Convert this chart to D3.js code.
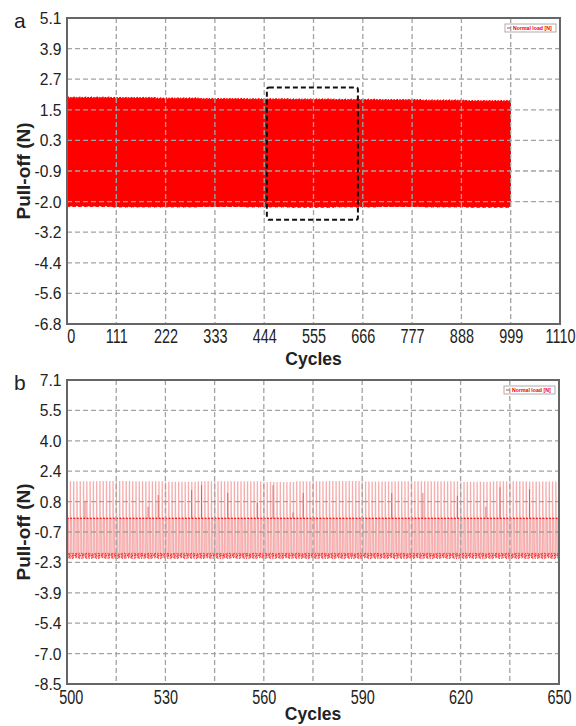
<!DOCTYPE html>
<html>
<head>
<meta charset="utf-8">
<script src="https://cdn.jsdelivr.net/npm/d3@7"></script>
<style>
  body { margin: 0; background: #fff; }
  svg { display: block; font-family: "Liberation Sans", Arial, sans-serif; }
</style>
</head>
<body>
<svg id="chart" width="576" height="726"></svg>
<script>
// ---- panel a : whole test, cycles 0-999 ----
var xTickLabelsA = ["0", "111", "222", "333", "444", "555", "666", "777", "888", "999", "1110"];
var yTickLabelsA = ["-6.8", "-5.6", "-4.4", "-3.2", "-2.0", "-0.9", "0.3", "1.5", "2.7", "3.9", "5.1"];
// envelope read per block of 100 cycles
var peakA = [1.97, 1.96, 1.94, 1.92, 1.91, 1.90, 1.89, 1.88, 1.86, 1.84];
var plateauA = [0.06, 0.05, 0.05, 0.04, 0.04, 0.04, 0.03, 0.03, 0.03, 0.02];
var troughA = [-2.18, -2.20, -2.20, -2.19, -2.20, -2.21, -2.20, -2.19, -2.20, -2.21];
// cycle-to-cycle scatter of the extremes
var wobbleA = [0, 0.05, -0.03, 0.07, -0.05, 0.02, -0.06, 0.04, -0.02, 0.06, -0.04, 0.01, 0.03];
// one loading cycle: phase within the cycle and which level it reaches
var phaseA = [0, 0.04, 0.1, 0.46, 0.5, 0.96];
var levelA = ["trough", "peak", "plateau", "plateau", "trough", "trough"];
// region enlarged in panel b
var zoomCycles = [450, 655];
var zoomLoad = [-2.75, 2.4];

// ---- panel b : cycles 500-650 ----
var xGridB = [500, 515, 530, 545, 560, 575, 590, 605, 620, 635, 650];
var xTickLabelsB = ["500", "", "530", "", "560", "", "590", "", "620", "", "650"];
var yTickLabelsB = ["-8.5", "-7.0", "-5.4", "-3.9", "-2.3", "-0.7", "0.8", "2.4", "4.0", "5.5", "7.1"];
// peak per block of 10 cycles
var peakB = [1.90, 1.92, 1.90, 1.88, 1.91, 1.90, 1.87, 1.90, 1.92, 1.89, 1.90, 1.91, 1.88, 1.90, 1.89];
var plateauB = 0.0;
var troughNoiseB = [-1.92, -1.82, -2.02, -1.87, -1.97, -1.80, -2.05, -1.90];
var phaseB = [0, 0.04, 0.1, 0.25, 0.4, 0.48, 0.55, 0.65, 0.75, 0.85, 0.95];
var levelB = ["trough", "peak", "plateau", "plateau", "plateau",
              "trough", "trough", "trough", "trough", "trough", "trough"];
// partial spikes that stand out darker
var accentCyclesB = [505.5, 524.7, 527.8, 538, 541, 549, 558, 562.8, 568.9, 572, 599, 608.5, 619, 627.7, 632, 641];
var accentLoadB = [0.9, 0.6, 1.2, 1.45, 1.7, 1.3, 0.8, 1.7, 0.3, 1.3, 1.3, 1.3, 1.15, 0.6, 1.6, 1.5];

var legendText = "Normal load [N]";

var svg = d3.select("#chart");

var xA = d3.scaleLinear().domain([0, 1110]).range([67, 560]);
var yA = d3.scaleLinear().domain([-6.8, 5.1]).range([324, 18]);
var xB = d3.scaleLinear().domain([500, 650]).range([67, 559]);
var yB = d3.scaleLinear().domain([-8.5, 7.1]).range([684, 380]);

function evenTicks(scale) {
	var d = scale.domain();
	return d3.range(11).map(function(i) { return d[0] + i * (d[1] - d[0]) / 10; });
}

// build series a
var seriesA = [];
for (var c = 0; c < 999; c++) {
	var b = Math.floor(c / 100);
	phaseA.forEach(function(p, k) {
		var v;
		if (levelA[k] == "peak") v = peakA[b] + wobbleA[c % wobbleA.length];
		else if (levelA[k] == "plateau") v = plateauA[b];
		else v = troughA[b] + wobbleA[(c + k) % wobbleA.length];
		seriesA.push([c + p, v]);
	});
}

// build series b
var seriesB = [];
var dotsB = [];
for (var c = 500; c < 650; c++) {
	var b = Math.floor((c - 500) / 10);
	phaseB.forEach(function(p, k) {
		var v;
		if (levelB[k] == "peak") v = peakB[b];
		else if (levelB[k] == "plateau") v = plateauB;
		else v = troughNoiseB[(c * 3 + k) % troughNoiseB.length];
		seriesB.push([c + p, v]);
		if (levelB[k] != "peak") dotsB.push([c + p, v]);
	});
}

function drawPanel(name, x, y, xTicks, xLabels, yLabels) {
	var left = x.range()[0], right = x.range()[1];
	var top = y.range()[1], bottom = y.range()[0];
	var g = svg.append("g").attr("class", "panel-" + name);

	g.append("clipPath").attr("id", "clip-" + name)
		.append("rect")
		.attr("x", left).attr("y", top)
		.attr("width", right - left).attr("height", bottom - top);

	var plot = g.append("g").attr("clip-path", "url(#clip-" + name + ")");

	// grid (drawn over the data like the original)
	var grid = g.append("g").attr("class", "grid");
	grid.selectAll("line.v")
		.data(xTicks.slice(1, -1))
		.enter().append("line")
		.attr("x1", function(d) { return x(d); })
		.attr("x2", function(d) { return x(d); })
		.attr("y1", top).attr("y2", bottom);
	grid.selectAll("line.h")
		.data(evenTicks(y).slice(1, -1))
		.enter().append("line")
		.attr("x1", left).attr("x2", right)
		.attr("y1", function(d) { return y(d); })
		.attr("y2", function(d) { return y(d); });
	grid.selectAll("line")
		.attr("stroke", "#a3a3a3")
		.attr("stroke-width", 1.3)
		.attr("stroke-dasharray", "5,3");

	g.append("rect")
		.attr("class", "frame")
		.attr("x", left).attr("y", top)
		.attr("width", right - left).attr("height", bottom - top)
		.attr("fill", "none")
		.attr("stroke", "#666")
		.attr("stroke-width", 2);

	// y tick labels
	var yAxis = d3.axisLeft(y)
		.tickValues(evenTicks(y))
		.tickSize(0)
		.tickPadding(6)
		.tickFormat(function(d, i) { return yLabels[i]; });
	var ya = g.append("g").attr("transform", "translate(" + left + ",0)").call(yAxis);
	ya.select(".domain").remove();
	ya.selectAll("text")
		.attr("font-size", 17)
		.attr("font-family", "Liberation Sans, Arial, sans-serif")
		.attr("fill", "#222")
		.attr("transform", "scale(0.92,1)");

	// x tick labels
	var xAxis = d3.axisBottom(x)
		.tickValues(xTicks)
		.tickSize(0)
		.tickPadding(name == "a" ? 5 : 6)
		.tickFormat(function(d, i) { return xLabels[i]; });
	var xa = g.append("g").attr("transform", "translate(0," + bottom + ")").call(xAxis);
	xa.select(".domain").remove();
	xa.selectAll("text")
		.attr("font-size", 19.5)
		.attr("font-family", "Liberation Sans, Arial, sans-serif")
		.attr("fill", "#222")
		.attr("transform", "scale(0.74,1)");
	// first label sits a little inside the frame
	xa.select(".tick text").attr("x", 5);

	// axis titles
	g.append("text")
		.attr("x", (left + right) / 2)
		.attr("y", Math.min(bottom + 41, 720))
		.attr("text-anchor", "middle")
		.attr("font-size", 17.5)
		.attr("font-weight", "bold")
		.attr("fill", "#222")
		.text("Cycles");
	g.append("text")
		.attr("transform", "translate(30," + (top + bottom) / 2 + ") rotate(-90)")
		.attr("text-anchor", "middle")
		.attr("font-size", 19)
		.attr("font-weight", "bold")
		.attr("fill", "#222")
		.text("Pull-off (N)");

	// panel letter
	g.append("text")
		.attr("x", 14)
		.attr("y", top + 10)
		.attr("font-size", 21)
		.attr("fill", "#222")
		.text(name);

	// legend
	var lg = g.append("g").attr("transform", "translate(" + (right - 55) + "," + (top + 6) + ")");
	lg.append("rect")
		.attr("width", 51).attr("height", 8)
		.attr("fill", "#fff")
		.attr("stroke", "#9a9a9a")
		.attr("stroke-width", 0.8);
	lg.append("line")
		.attr("x1", 2).attr("x2", 6).attr("y1", 4).attr("y2", 4)
		.attr("stroke", "#e00").attr("stroke-width", 0.8);
	lg.append("text")
		.attr("x", 8).attr("y", 6)
		.attr("font-size", 5.2)
		.attr("font-weight", "bold")
		.attr("fill", "#e00")
		.text(legendText);

	return { plot: plot };
}

var pa = drawPanel("a", xA, yA, d3.range(0, 1111, 111), xTickLabelsA, yTickLabelsA);
var pb = drawPanel("b", xB, yB, xGridB, xTickLabelsB, yTickLabelsB);

// panel a data
pa.plot.append("path")
	.datum(seriesA)
	.attr("fill", "none")
	.attr("stroke", "#ff0000")
	.attr("stroke-width", 1)
	.attr("d", d3.line().x(function(d) { return xA(d[0]); }).y(function(d) { return yA(d[1]); }));

// panel b data
pb.plot.append("path")
	.datum(seriesB)
	.attr("fill", "none")
	.attr("stroke", "rgba(232,60,60,0.42)")
	.attr("stroke-width", 1.3)
	.attr("d", d3.line().x(function(d) { return xB(d[0]); }).y(function(d) { return yB(d[1]); }));

pb.plot.selectAll("line.accent")
	.data(accentCyclesB)
	.enter().append("line")
	.attr("x1", function(d) { return xB(d); })
	.attr("x2", function(d) { return xB(d); })
	.attr("y1", yB(plateauB))
	.attr("y2", function(d, i) { return yB(accentLoadB[i]); })
	.attr("stroke", "rgba(205,40,40,0.6)")
	.attr("stroke-width", 1);

pb.plot.selectAll("rect.dot")
	.data(dotsB)
	.enter().append("rect")
	.attr("x", function(d) { return xB(d[0]) - 0.5; })
	.attr("y", function(d) { return yB(d[1]) - 0.6; })
	.attr("width", 1).attr("height", 1.2)
	.attr("fill", "rgba(255,0,0,0.75)");

// grid and frame stay above the data
svg.selectAll(".grid").raise();
svg.selectAll(".frame").raise();

// dashed box marking the enlarged region
svg.append("rect")
	.attr("x", xA(zoomCycles[0]))
	.attr("y", yA(zoomLoad[1]))
	.attr("width", xA(zoomCycles[1]) - xA(zoomCycles[0]))
	.attr("height", yA(zoomLoad[0]) - yA(zoomLoad[1]))
	.attr("rx", 2)
	.attr("fill", "none")
	.attr("stroke", "#111")
	.attr("stroke-width", 2)
	.attr("stroke-dasharray", "5,3");
</script>
</body>
</html>
